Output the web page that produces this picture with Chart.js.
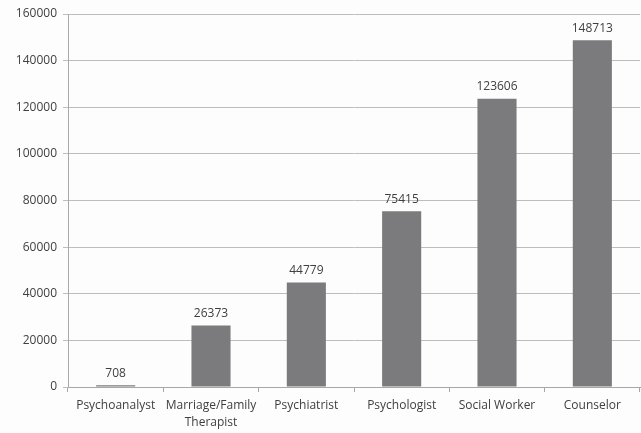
<!DOCTYPE html>
<html>
<head>
<meta charset="utf-8">
<script src="https://cdn.jsdelivr.net/npm/chart.js@4/dist/chart.umd.min.js"></script>
<style>
html,body{margin:0;padding:0;background:#fdfdfd;}
#wrap{width:641px;height:433px;position:relative;}
</style>
</head>
<body>
<div id="wrap"><canvas id="c" width="641" height="433"></canvas></div>
<script>
const categories = ["Psychoanalyst", ["Marriage/Family", "Therapist"], "Psychiatrist", "Psychologist", "Social Worker", "Counselor"];
const counts = [708, 26373, 44779, 75415, 123606, 148713];
const yMin = 0, yMax = 160000, yStep = 20000;

const textColor = '#404040';
const fontFamily = '"Open Sans", "Noto Sans", sans-serif';

const valueLabels = {
  id: 'valueLabels',
  afterDatasetsDraw(chart) {
    const ctx = chart.ctx;
    const meta = chart.getDatasetMeta(0);
    ctx.save();
    ctx.fillStyle = textColor;
    ctx.font = '12px ' + fontFamily;
    ctx.textAlign = 'center';
    ctx.textBaseline = 'bottom';
    meta.data.forEach((bar, i) => {
      ctx.fillText(String(chart.data.datasets[0].data[i]), bar.x, bar.y - 6);
    });
    ctx.restore();
  }
};

new Chart(document.getElementById('c'), {
  type: 'bar',
  data: {
    labels: categories,
    datasets: [{
      data: counts,
      backgroundColor: '#7b7b7d',
      borderWidth: 0,
      categoryPercentage: 1,
      barPercentage: 0.41
    }]
  },
  options: {
    responsive: false,
    animation: false,
    layout: { padding: { top: 14, right: 1, left: 0, bottom: 0 } },
    plugins: { legend: { display: false }, tooltip: { enabled: false } },
    scales: {
      x: {
        offset: true,
        grid: { display: true, drawOnChartArea: false, drawTicks: true, tickLength: 5, offset: true, color: '#a8a8a8' },
        border: { color: '#a8a8a8', width: 1 },
        ticks: { color: textColor, font: { family: fontFamily, size: 12, lineHeight: 1.4 }, maxRotation: 0, autoSkip: false, padding: 5 },
        afterFit(s) { s.height = 46; }
      },
      y: {
        min: yMin, max: yMax,
        grid: { color: '#bdbdbd', lineWidth: 1, drawTicks: true, tickLength: 5 },
        border: { color: '#a8a8a8', width: 1 },
        ticks: { stepSize: yStep, color: textColor, font: { family: fontFamily, size: 12 }, padding: 6,
                 callback: (v) => String(v) },
        afterFit(s) { s.width = 68; }
      }
    }
  },
  plugins: [valueLabels]
});
</script>
</body>
</html>
